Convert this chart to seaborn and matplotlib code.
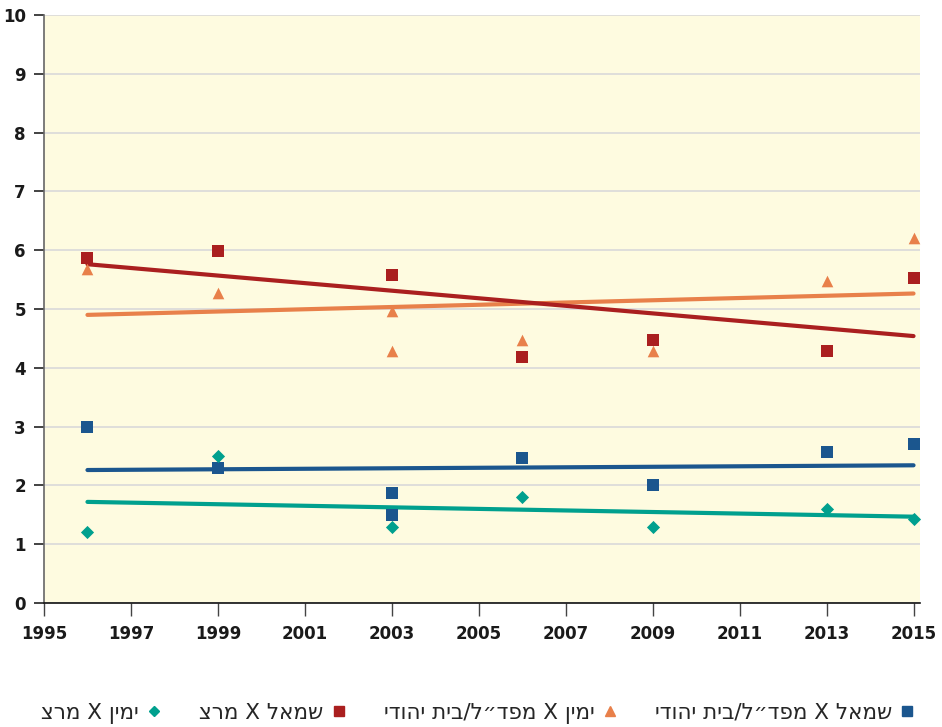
import matplotlib
matplotlib.use("Agg")
import matplotlib.pyplot as plt
from matplotlib.lines import Line2D
import seaborn as sns
import pandas as pd

# series values
years_left_mafdal = [1996, 1999, 2003, 2003, 2006, 2009, 2013, 2015]
vals_left_mafdal = [3.0, 2.3, 1.87, 1.5, 2.47, 2.0, 2.57, 2.7]

years_right_mafdal = [1996, 1999, 2003, 2003, 2006, 2009, 2013, 2015]
vals_right_mafdal = [5.68, 5.28, 4.97, 4.28, 4.48, 4.28, 5.48, 6.2]

years_left_meretz = [1996, 1999, 2003, 2006, 2009, 2013, 2015]
vals_left_meretz = [5.87, 5.98, 5.58, 4.18, 4.48, 4.28, 5.52]

years_right_meretz = [1996, 1999, 2003, 2006, 2009, 2013, 2015]
vals_right_meretz = [1.2, 2.5, 1.3, 1.8, 1.3, 1.6, 1.42]

labels = {
    "left_mafdal": "שמאל X מפד״ל/בית יהודי",
    "right_mafdal": "ימין X מפד״ל/בית יהודי",
    "left_meretz": "שמאל X מרצ",
    "right_meretz": "ימין X מרצ",
}

x_ticks = list(range(1995, 2016, 2))
y_ticks = list(range(0, 11))


def visual(s):
    # matplotlib has no bidi support, so flip Hebrew into visual order
    return s[::-1]


series = [
    ("left_mafdal", years_left_mafdal, vals_left_mafdal, "#1b568e", "s", 70),
    ("right_mafdal", years_right_mafdal, vals_right_mafdal, "#e8804a", "^", 70),
    ("left_meretz", years_left_meretz, vals_left_meretz, "#aa1f1f", "s", 70),
    ("right_meretz", years_right_meretz, vals_right_meretz, "#00a08e", "D", 45),
]

sns.set_style("white")
plt.rcParams["font.family"] = ["DejaVu Sans"]

fig = plt.figure(figsize=(9.42, 7.27), dpi=100)
ax = fig.add_axes([0.0467, 0.1706, 0.9300, 0.8088])
ax.set_facecolor("#fefbe0")

for key, xs, ys, color, marker, size in series:
    df = pd.DataFrame({"year": xs, "value": ys})
    sns.regplot(data=df, x="year", y="value", ax=ax, ci=None, color=color,
                marker=marker,
                scatter_kws={"s": size, "alpha": 1, "linewidths": 0, "zorder": 3},
                line_kws={"linewidth": 3, "solid_capstyle": "round", "zorder": 2})

ax.set_xlim(1995, 2015.15)
ax.set_ylim(0, 10)
ax.set_xticks(x_ticks)
ax.set_yticks(y_ticks)
ax.set_xlabel("")
ax.set_ylabel("")
ax.yaxis.grid(True, color="#d9d9d9", linewidth=1.2, zorder=0)
ax.set_axisbelow(True)

for s in ["top", "right"]:
    ax.spines[s].set_visible(False)
ax.spines["left"].set_color("#666666")
ax.spines["left"].set_linewidth(1.2)
ax.spines["bottom"].set_color("#111111")
ax.spines["bottom"].set_linewidth(1.2)

ax.tick_params(axis="y", length=7, width=1.2, color="#222222", labelsize=12,
               pad=6, left=True)
ax.tick_params(axis="x", length=9, width=1, color="#444444", labelsize=12,
               pad=7, bottom=True)
for t in ax.get_xticklabels() + ax.get_yticklabels():
    t.set_fontweight("bold")
    t.set_color("#1a1a1a")

# legend, right-to-left: marker sits to the right of its label
order = ["right_meretz", "left_meretz", "right_mafdal", "left_mafdal"]
style = {k: (c, m) for k, _, _, c, m, _ in series}
handles = [Line2D([], [], linestyle="none", marker=style[k][1], color=style[k][0],
                  markersize=7 if style[k][1] != "D" else 5.5)
           for k in order]
fig.legend(handles, [visual(labels[k]) for k in order], loc="lower center",
           bbox_to_anchor=(0.507, -0.022), ncol=4, frameon=False, markerfirst=False,
           fontsize=15.5, handlelength=0.6, handletextpad=0.4,
           columnspacing=1.8)

fig.savefig("out.png", dpi=100)
